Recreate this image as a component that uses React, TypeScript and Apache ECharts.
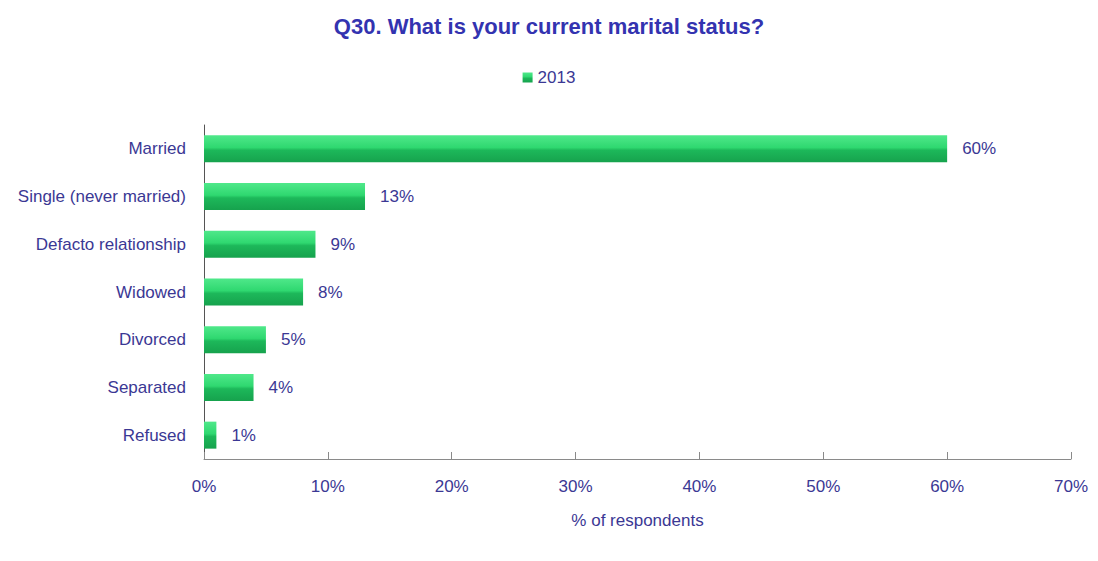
import React, { useEffect, useRef } from "react";
import * as echarts from "echarts";

const categories = [
  "Married",
  "Single (never married)",
  "Defacto relationship",
  "Widowed",
  "Divorced",
  "Separated",
  "Refused",
];
const values2013 = [60, 13, 9, 8, 5, 4, 1];
const seriesName = "2013";
const titleText = "Q30. What is your current marital status?";
const xAxisName = "% of respondents";

const FONT = "'Liberation Sans Narrow', 'Arial Narrow', 'Liberation Sans', Arial, sans-serif";
const TEXT = "#3b3894";

export default function App() {
  const ref = useRef<HTMLDivElement>(null);
  useEffect(() => {
    document.body.style.margin = "0";
    const chart = echarts.init(ref.current!, null, { renderer: "svg" });
    const barColor = new echarts.graphic.LinearGradient(0, 0, 0, 1, [
      { offset: 0, color: "#4fe88a" },
      { offset: 0.45, color: "#2fd870" },
      { offset: 0.55, color: "#1db85a" },
      { offset: 1, color: "#16a24d" },
    ]);
    chart.setOption({
      animation: false,
      backgroundColor: "#ffffff",
      title: {
        text: titleText,
        left: "center",
        top: 10,
        textStyle: { color: "#3333b0", fontSize: 22, fontWeight: "bold", fontFamily: FONT },
      },
      legend: {
        data: [seriesName],
        top: 64,
        left: "center",
        itemWidth: 10,
        itemHeight: 10,
        itemGap: 4,
        icon: "rect",
        textStyle: { color: TEXT, fontSize: 17, fontFamily: FONT },
      },
      grid: { left: 204, right: 27, top: 125, bottom: 102, containLabel: false },
      xAxis: {
        type: "value",
        min: 0,
        max: 70,
        interval: 10,
        name: xAxisName,
        nameLocation: "middle",
        nameGap: 53,
        nameTextStyle: { color: TEXT, fontSize: 17, fontFamily: FONT },
        axisLine: { show: true, lineStyle: { color: "#8a8a8a" } },
        axisTick: { show: true, inside: true, length: 7, lineStyle: { color: "#8a8a8a" } },
        splitLine: { show: false },
        axisLabel: {
          formatter: "{value}%",
          color: TEXT,
          fontSize: 17,
          fontFamily: FONT,
          margin: 19,
        },
      },
      yAxis: {
        type: "category",
        data: categories,
        inverse: true,
        axisLine: { show: true, lineStyle: { color: "#555" } },
        axisTick: { show: false },
        axisLabel: { color: TEXT, fontSize: 17, fontFamily: FONT, margin: 18 },
      },
      series: [
        {
          name: seriesName,
          type: "bar",
          data: values2013,
          barWidth: 27,
          itemStyle: { color: barColor },
          label: {
            show: true,
            position: "right",
            distance: 15,
            formatter: "{c}%",
            color: TEXT,
            fontSize: 17,
            fontFamily: FONT,
          },
        },
      ],
    });
    return () => chart.dispose();
  }, []);
  return <div ref={ref} style={{ width: 1098, height: 561 }} />;
}
